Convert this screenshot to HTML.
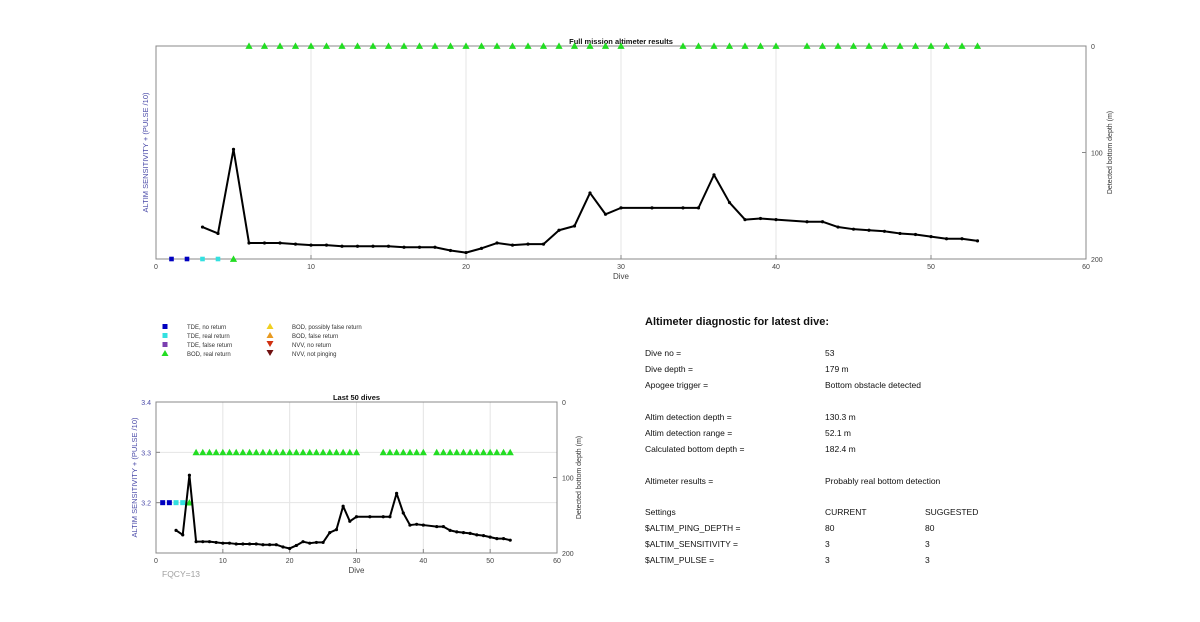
<!DOCTYPE html>
<html><head><meta charset="utf-8"><style>
html,body{margin:0;padding:0;background:#fff;width:1200px;height:622px;overflow:hidden}
svg text{font-family:"Liberation Sans",Arial,sans-serif}
</style></head><body>
<svg id="s" width="1200" height="622" viewBox="0 0 1200 622" xmlns="http://www.w3.org/2000/svg">
<g font-size="8.5" fill="#111">
<text x="645" y="325" font-size="11" font-weight="bold">Altimeter diagnostic for latest dive:</text>
<text x="645" y="356">Dive no =</text><text x="825" y="356">53</text>
<text x="645" y="372">Dive depth =</text><text x="825" y="372">179 m</text>
<text x="645" y="388">Apogee trigger =</text><text x="825" y="388">Bottom obstacle detected</text>
<text x="645" y="420">Altim detection depth =</text><text x="825" y="420">130.3 m</text>
<text x="645" y="436">Altim detection range =</text><text x="825" y="436">52.1 m</text>
<text x="645" y="452">Calculated bottom depth =</text><text x="825" y="452">182.4 m</text>
<text x="645" y="484">Altimeter results =</text><text x="825" y="484">Probably real bottom detection</text>
<text x="645" y="515">Settings</text><text x="825" y="515">CURRENT</text><text x="925" y="515">SUGGESTED</text>
<text x="645" y="531">$ALTIM_PING_DEPTH =</text><text x="825" y="531">80</text><text x="925" y="531">80</text>
<text x="645" y="547">$ALTIM_SENSITIVITY =</text><text x="825" y="547">3</text><text x="925" y="547">3</text>
<text x="645" y="563">$ALTIM_PULSE =</text><text x="825" y="563">3</text><text x="925" y="563">3</text>
</g>
<g font-size="6" fill="#333">
<rect x="162.5" y="324" width="5" height="5" fill="#0000c0"/><text x="187" y="329">TDE, no return</text>
<rect x="162.5" y="333" width="5" height="5" fill="#33e0e0"/><text x="187" y="338">TDE, real return</text>
<rect x="162.5" y="342" width="5" height="5" fill="#7b3fb0"/><text x="187" y="347">TDE, false return</text>
<polygon points="165,350 168.5,356 161.5,356" fill="#22dd22"/><text x="187" y="356">BOD, real return</text>
<polygon points="270,323 273.5,329 266.5,329" fill="#f0d020"/><text x="292" y="329">BOD, possibly false return</text>
<polygon points="270,332 273.5,338 266.5,338" fill="#e89a20"/><text x="292" y="338">BOD, false return</text>
<polygon points="266.5,341 273.5,341 270,347" fill="#d03010"/><text x="292" y="347">NVV, no return</text>
<polygon points="266.5,350 273.5,350 270,356" fill="#701010"/><text x="292" y="356">NVV, not pinging</text>
</g>
<text x="162" y="577" font-size="8.5" fill="#a0a0a0">FQCY=13</text>
</svg>
<script>
// ---- data ----
const dives = [3,4,5,6,7,8,9,10,11,12,13,14,15,16,17,18,19,20,21,22,23,24,25,26,27,28,29,30,32,34,35,36,37,38,39,40,42,43,44,45,46,47,48,49,50,51,52,53];
const depths = [170,176,97,185,185,185,186,187,187,188,188,188,188,189,189,189,192,194,190,185,187,186,186,173,169,138,158,152,152,152,152,121,147,163,162,163,165,165,170,172,173,174,176,177,179,181,181,183];
const bodDives = [6,7,8,9,10,11,12,13,14,15,16,17,18,19,20,21,22,23,24,25,26,27,28,29,30,34,35,36,37,38,39,40,42,43,44,45,46,47,48,49,50,51,52,53];
const tdeNoReturn = [1,2];
const tdeRealReturn = [3,4];
const bodLowDives = [5];
const xTicks = [0,10,20,30,40,50,60];
const depthTicks = [0,100,200];
const sensTicks = [3.4,3.3,3.2];

const S = document.getElementById('s');
const NS = 'http://www.w3.org/2000/svg';
function mk(tag, attrs, parent){const e=document.createElementNS(NS,tag);for(const k in attrs)e.setAttribute(k,attrs[k]);(parent||S).appendChild(e);return e;}

function drawChart(o){
  const g = mk('g',{});
  
  
  const X = d => o.x0 + (d-0)/60*(o.x1-o.x0);
  const Yd = v => o.y0 + v/200*(o.y1-o.y0);
  const Ys = v => o.y1 - (v-3.1)/0.3*(o.y1-o.y0);
  // grid
  xTicks.forEach(t=>{ if(t>0&&t<60){
    const l=mk('line',{x1:X(t),x2:X(t),y1:o.y0,y2:o.y1,stroke:'#e4e4e4','stroke-width':1},g);
    
    
  }});
  if(o.sens){ sensTicks.forEach(t=>{ if(t<3.4){
    const l=mk('line',{x1:o.x0,x2:o.x1,y1:Ys(t),y2:Ys(t),stroke:'#e4e4e4','stroke-width':1},g);
    
    
  }});}
  // box
  const box=mk('rect',{x:o.x0,y:o.y0,width:o.x1-o.x0,height:o.y1-o.y0,fill:'none',stroke:'#888','stroke-width':1},g);
  
  
  // x ticks
  xTicks.forEach(t=>{
    mk('line',{x1:X(t),x2:X(t),y1:o.y1,y2:o.y1-4,stroke:'#888'},g);
    const tx=mk('text',{x:X(t),y:o.y1+10,'font-size':o.fs,'text-anchor':'middle',fill:'#444'},g);
    tx.textContent=t;
    
    
  });
  depthTicks.forEach(t=>{
    mk('line',{x1:o.x1,x2:o.x1-4,y1:Yd(t),y2:Yd(t),stroke:'#888'},g);
    const tx=mk('text',{x:o.x1+5,y:Yd(t)+3,'font-size':o.fs,fill:'#444'},g);
    tx.textContent=t;
    
    
  });
  if(o.sens){ sensTicks.forEach(t=>{
    mk('line',{x1:o.x0,x2:o.x0+4,y1:Ys(t),y2:Ys(t),stroke:'#888'},g);
    const tx=mk('text',{x:o.x0-5,y:Ys(t)+3,'font-size':o.fs,'text-anchor':'end',fill:'#4a4aa8'},g);
    tx.textContent=t.toFixed(1);
    
    
  });}
  // labels
  const xl=mk('text',{x:(o.x0+o.x1)/2,y:o.y1+20,'font-size':o.fs+1,'text-anchor':'middle',fill:'#444'},g);
  xl.textContent='Dive';
  
  
  const ttl=mk('text',{x:(o.x0+o.x1)/2,y:o.y0-2,'font-size':o.fs+0.5,'text-anchor':'middle','font-weight':'bold',fill:'#111'},g);
  ttl.textContent=o.title;
  
  
  const ly=(o.y0+o.y1)/2;
  const yl=mk('text',{x:o.x0-o.lOff,y:ly,'font-size':o.fs+0.5,'text-anchor':'middle',fill:'#4a4aa8',transform:`rotate(-90 ${o.x0-o.lOff} ${ly})`},g);
  yl.textContent='ALTIM SENSITIVITY + (PULSE /10)';
  
  
  const ry=mk('text',{x:o.x1+o.rOff,y:ly,'font-size':o.fs,'text-anchor':'middle',fill:'#333',transform:`rotate(-90 ${o.x1+o.rOff} ${ly})`},g);
  ry.textContent='Detected bottom depth (m)';
  
  
  // markers
  const topY = o.sens ? Ys(3.3) : Yd(0);
  const lowY = o.sens ? Ys(3.2) : Yd(200);
  const ts=o.tri;
  bodDives.forEach(d=>{
    const p=mk('polygon',{points:`${X(d)},${topY-ts} ${X(d)+ts},${topY+ts*0.8} ${X(d)-ts},${topY+ts*0.8}`,fill:'#22dd22'},g);
    
    
  });
  bodLowDives.forEach(d=>{
    const p=mk('polygon',{points:`${X(d)},${lowY-ts} ${X(d)+ts},${lowY+ts*0.8} ${X(d)-ts},${lowY+ts*0.8}`,fill:'#22dd22'},g);
    
    
  });
  const sq=o.sq;
  tdeNoReturn.forEach(d=>{
    const r=mk('rect',{x:X(d)-sq,y:lowY-sq,width:2*sq,height:2*sq,fill:'#0000c0'},g);
    
    
  });
  tdeRealReturn.forEach(d=>{
    const r=mk('rect',{x:X(d)-sq,y:lowY-sq,width:2*sq,height:2*sq,fill:'#33e0e0'},g);
    
    
  });
  // depth line
  const pts=dives.map((d,i)=>X(d)+','+Yd(depths[i])).join(' ');
  const pl=mk('polyline',{points:pts,fill:'none',stroke:'#000','stroke-width':2,'stroke-linejoin':'round'},g);
  
  
  dives.forEach((d,i)=>{
    const c=mk('circle',{cx:X(d),cy:Yd(depths[i]),r:1.6,fill:'#000'},g);
    
    
  });
}
drawChart({name:'full-mission-chart',title:'Full mission altimeter results',x0:156,x1:1086,y0:46,y1:259,fs:7,sens:false,lOff:8,rOff:26,tri:3.6,sq:2.3});
drawChart({name:'last-50-dives-chart',title:'Last 50 dives',x0:156,x1:557,y0:402,y1:553,fs:7,sens:true,lOff:19,rOff:24,tri:3.6,sq:2.5});
</script>
</body></html>
